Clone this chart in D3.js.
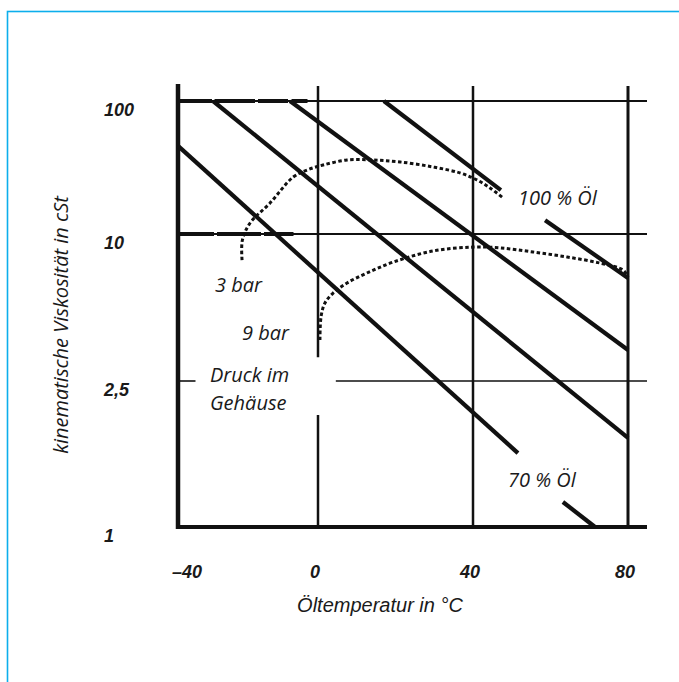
<!DOCTYPE html>
<html>
<head>
<meta charset="utf-8">
<script src="https://cdn.jsdelivr.net/npm/d3@7"></script>
<style>
  body { margin: 0; background: #fff; }
  svg { display: block; }
  .tick-label { font-family: "Liberation Sans", Arial, sans-serif; font-style: italic; font-weight: bold; font-size: 18px; fill: #1a1a1a; }
  .note { font-family: "Open Sans", sans-serif; font-style: italic; font-size: 20px; fill: #1a1a1a; }
  .title { font-family: "Liberation Sans", Arial, sans-serif; font-style: italic; font-size: 20px; fill: #1a1a1a; }
</style>
</head>
<body>
<div class="chart"></div>
<script>
// axis ticks: temperature in °C, viscosity in cSt
var xTicks = [-40, 0, 40, 80];
var xTickLabels = ["–40", "0", "40", "80"];
var yTicks = [100, 10, 2.5, 1];
var yTickLabels = ["100", "10", "2,5", "1"];

// straight viscosity lines, end points as [temperature, viscosity]
var oel100Upper = [[17, 100], [47.2, 21.4]];
var oel100Lower = [[58.6, 12.7], [80, 6.6]];
var mischung1 = [[-8, 100], [80, 3.35]];
var mischung2 = [[-30, 100], [80, 1.75]];
var oel70Upper = [[-40, 46], [51.6, 1.59]];
var oel70Lower = [[63.2, 1.17], [71.5, 1]];

// dotted curves of constant pressure in the housing
var druck3bar = [[-21.7, 7.82], [-21.6, 9.45], [-19.4, 12.1], [-13.7, 17.1], [-7.1, 26.8], [-3.1, 30.3],
    [1.3, 33.0], [7.5, 36.0], [14.2, 36.0], [21.2, 34.8], [29.7, 31.9], [36.6, 28.8], [41.0, 25.5],
    [44.4, 22.2], [47.7, 18.7]];
var druck9bar = [[0.5, 3.68], [0.8, 4.6], [1.8, 5.22], [3.9, 5.73], [7.5, 6.30], [12.6, 6.92],
    [19.4, 7.67], [29.7, 8.52], [40, 8.84], [47, 8.77], [55.5, 8.44], [64.3, 8.05], [72.8, 7.60],
    [78.7, 7.12], [80, 6.67]];

var width = 679, height = 682;

var svg = d3.select(".chart")
    .append("svg")
    .attr("width", width)
    .attr("height", height);

// blue page frame
svg.append("rect")
    .attr("x", 7.5).attr("y", 11.5)
    .attr("width", 800).attr("height", 800)
    .attr("fill", "none")
    .attr("stroke", "#0daeec")
    .attr("stroke-width", 1.6);

// the paper chart is not evenly spaced, so both scales are piecewise
var x = d3.scaleLinear()
    .domain([-40, 0, 40, 80, 85])
    .range([178, 318, 473, 628, 647]);

var y = d3.scaleLog()
    .domain([1, 2.5, 10, 100, 130])
    .range([527, 381, 234, 101, 86]);

var line = d3.line()
    .x(function (d) { return x(d[0]); })
    .y(function (d) { return y(d[1]); });

var ink = "#111";

function seg(x1, v1, x2, v2, w) {
    return svg.append("line")
        .attr("x1", x(x1)).attr("y1", y(v1))
        .attr("x2", x(x2)).attr("y2", y(v2))
        .attr("stroke", ink)
        .attr("stroke-width", w);
}

// horizontal grid lines
seg(-40, 100, 85, 100, 2);
seg(-40, 10, 85, 10, 2);
seg(-40, 100, -3, 100, 4).attr("stroke-dasharray", "34,3,40,3,30,4");
seg(-40, 10, -7, 10, 4).attr("stroke-dasharray", "36,3,44,3,30");
seg(4.6, 2.5, 85, 2.5, 1.6);
seg(-40, 2.5, -35, 2.5, 1.6);

// vertical grid lines (x = 0 is broken next to the note)
seg(0, 130, 0, 3.13, 2.5);
seg(0, 2.02, 0, 1, 2.5);
seg(40, 130, 40, 1, 2.5);
seg(80, 130, 80, 1, 3);

// axes
svg.append("line")
    .attr("x1", x(-40)).attr("y1", y(130) - 2)
    .attr("x2", x(-40)).attr("y2", y(1) + 2)
    .attr("stroke", ink).attr("stroke-width", 4.5);
svg.append("line")
    .attr("x1", x(-40) - 2).attr("y1", y(1))
    .attr("x2", x(85)).attr("y2", y(1))
    .attr("stroke", ink).attr("stroke-width", 4);

// dotted pressure curves
[druck3bar, druck9bar].forEach(function (pts) {
    svg.append("path")
        .datum(pts)
        .attr("d", line.curve(d3.curveCatmullRom))
        .attr("fill", "none")
        .attr("stroke", ink)
        .attr("stroke-width", 3)
        .attr("stroke-dasharray", "3.5,2.5");
});

// thick viscosity lines
line.curve(d3.curveLinear);
[oel100Upper, oel100Lower, mischung1, mischung2, oel70Upper, oel70Lower].forEach(function (pts) {
    svg.append("path")
        .datum(pts)
        .attr("d", line)
        .attr("fill", "none")
        .attr("stroke", ink)
        .attr("stroke-width", 4.2);
});

// tick labels
svg.selectAll(".ylab")
    .data(yTicks)
    .enter().append("text")
    .attr("class", "tick-label")
    .attr("x", 104)
    .attr("y", function (d) { return y(d) + 15; })
    .text(function (d, i) { return yTickLabels[i]; });

svg.selectAll(".xlab")
    .data(xTicks)
    .enter().append("text")
    .attr("class", "tick-label")
    .attr("text-anchor", "middle")
    .attr("x", function (d) { return x(d); })
    .attr("dx", function (d) { return d === -40 ? 9 : -3; }) // labels sit a bit off the lines on the original
    .attr("y", y(1) + 51)
    .text(function (d, i) { return xTickLabels[i]; });

// axis titles
svg.append("text")
    .attr("class", "title")
    .attr("text-anchor", "middle")
    .attr("x", 380)
    .attr("y", 612)
    .text("Öltemperatur in °C");

svg.append("text")
    .attr("class", "note")
    .attr("text-anchor", "middle")
    .attr("transform", "translate(68,325) rotate(-90)")
    .text("kinematische Viskosität in cSt");

// notes inside the chart
var notes = [
    ["100 % Öl", 518, 205],
    ["70 % Öl", 508, 487],
    ["3 bar", 215, 292],
    ["9 bar", 242, 340],
    ["Druck im", 210, 382],
    ["Gehäuse", 210, 410]
];
svg.selectAll(".notes")
    .data(notes)
    .enter().append("text")
    .attr("class", "note")
    .attr("x", function (d) { return d[1]; })
    .attr("y", function (d) { return d[2]; })
    .text(function (d) { return d[0]; });
</script>
</body>
</html>
